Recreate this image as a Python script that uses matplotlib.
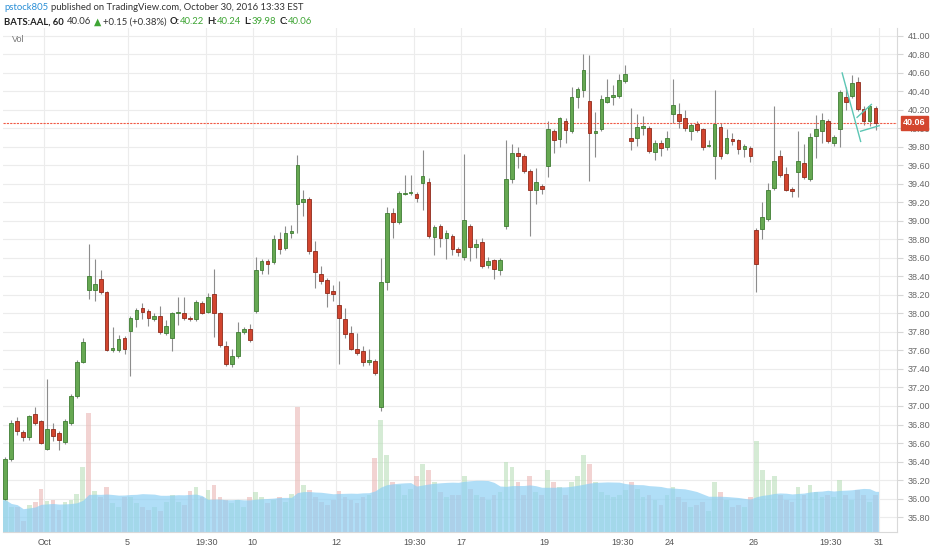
import numpy as np
import pandas as pd
import matplotlib
matplotlib.use('Agg')
import matplotlib.pyplot as plt
import matplotlib.transforms as mtransforms

# BATS:AAL, 60 min bars, Sep 30 - Oct 28 2016
opens = [36.00, 36.43, 36.84, 36.72, 36.66, 36.91, 36.84,
         36.54, 36.75, 36.71, 36.61, 36.82, 37.11, 37.48,
         38.25, 38.25, 38.37, 38.23, 37.61, 37.60, 37.74,
         37.81, 37.94, 38.06, 38.03, 37.94, 37.97, 37.79,
         37.74, 38.00, 38.00, 37.95, 37.94, 38.11, 38.02,
         38.21, 38.01, 37.65, 37.45, 37.54, 37.80, 37.83,
         38.03, 38.47, 38.57, 38.56, 38.80, 38.71, 38.87,
         39.18, 39.20, 39.24, 38.68, 38.43, 38.36, 38.24,
         38.09, 37.94, 37.79, 37.62, 37.59, 37.48, 37.49,
         36.99, 38.34, 39.09, 38.99, 39.29, 39.30, 39.29,
         39.41, 39.42, 38.83, 38.95, 38.82, 38.84, 38.70,
         38.61, 38.95, 38.72, 38.77, 38.52, 38.58, 38.47,
         38.95, 39.45, 39.73, 39.70, 39.54, 39.33, 39.38,
         39.59, 39.97, 39.89, 40.08, 39.97, 40.34, 40.42,
         40.30, 39.95, 39.99, 40.29, 40.34, 40.35, 40.51,
         39.90, 39.90, 40.01, 40.01, 39.75, 39.84, 39.80,
         40.16, 40.16, 40.11, 39.97, 40.05, 39.99, 39.81,
         39.70, 40.02, 39.74, 39.89, 39.87, 39.78, 39.79,
         38.90, 38.91, 39.02, 39.36, 39.70, 39.51, 39.35,
         39.53, 39.63, 39.45, 39.92, 39.97, 40.08, 39.84,
         39.99, 40.34, 40.35, 40.50, 40.21, 40.08, 40.22]
highs = [36.45, 36.85, 36.88, 36.74, 36.90, 36.99, 36.85,
         37.29, 36.82, 36.73, 36.86, 37.13, 37.50, 37.74,
         38.75, 38.59, 38.47, 38.24, 37.85, 37.77, 37.76,
         37.97, 38.06, 38.11, 38.05, 38.00, 38.08, 37.93,
         38.02, 38.18, 38.18, 37.97, 38.15, 38.13, 38.22,
         38.48, 38.02, 37.70, 37.62, 37.91, 37.85, 37.89,
         38.61, 38.59, 38.59, 38.85, 38.88, 38.95, 38.96,
         39.71, 39.33, 39.26, 38.78, 38.51, 38.38, 38.31,
         38.35, 38.06, 37.87, 37.79, 37.65, 37.62, 37.51,
         38.60, 39.15, 39.14, 39.32, 39.50, 39.50, 39.31,
         39.77, 39.46, 38.96, 38.97, 38.90, 38.86, 38.72,
         39.72, 38.97, 38.80, 38.82, 38.61, 38.59, 38.60,
         39.88, 39.83, 39.80, 39.72, 39.56, 39.57, 39.40,
         40.08, 39.99, 40.12, 40.11, 40.45, 40.45, 40.81,
         40.79, 40.18, 40.36, 40.54, 40.47, 40.59, 40.69,
         40.22, 40.16, 40.14, 40.03, 39.88, 39.87, 39.97,
         40.54, 40.28, 40.20, 40.06, 40.08, 40.00, 39.88,
         40.42, 40.06, 39.99, 39.95, 39.89, 39.83, 39.81,
         38.92, 39.20, 39.41, 40.24, 39.77, 39.58, 39.37,
         39.97, 39.83, 39.95, 40.15, 40.17, 40.10, 39.93,
         40.42, 40.45, 40.58, 40.56, 40.24, 40.25, 40.24]
lows = [35.98, 36.41, 36.69, 36.62, 36.63, 36.80, 36.59,
        36.52, 36.62, 36.52, 36.59, 36.80, 37.09, 37.46,
        38.16, 38.14, 38.21, 37.59, 37.58, 37.58, 37.56,
        37.32, 37.85, 37.94, 37.87, 37.92, 37.78, 37.77,
        37.59, 37.88, 37.93, 37.92, 37.92, 37.99, 38.00,
        37.75, 37.64, 37.43, 37.42, 37.52, 37.78, 37.69,
        38.01, 38.43, 38.43, 38.54, 38.64, 38.69, 38.82,
        38.87, 39.05, 38.64, 38.28, 38.32, 38.07, 38.13,
        37.45, 37.73, 37.60, 37.55, 37.43, 37.44, 37.34,
        36.95, 38.25, 38.82, 38.97, 39.28, 39.28, 39.20,
        39.12, 38.82, 38.63, 38.72, 38.59, 38.63, 38.62,
        38.58, 38.57, 38.60, 38.49, 38.49, 38.37, 38.42,
        38.91, 39.41, 39.57, 39.52, 38.84, 39.18, 39.29,
        39.48, 39.74, 39.80, 39.84, 39.95, 40.22, 40.34,
        39.43, 39.69, 39.97, 40.27, 40.25, 40.33, 40.49,
        39.77, 39.81, 39.93, 39.74, 39.66, 39.70, 39.77,
        40.06, 40.00, 39.97, 39.87, 39.96, 39.77, 39.80,
        39.45, 39.67, 39.72, 39.82, 39.72, 39.69, 39.64,
        38.23, 38.80, 39.00, 39.34, 39.48, 39.32, 39.26,
        39.26, 39.45, 39.43, 39.68, 39.84, 39.84, 39.81,
        39.80, 40.20, 40.33, 40.19, 40.04, 40.03, 39.98]
closes = [36.43, 36.82, 36.73, 36.67, 36.89, 36.82, 36.60,
          36.75, 36.68, 36.63, 36.84, 37.11, 37.48, 37.69,
          38.41, 38.32, 38.23, 37.61, 37.63, 37.72, 37.62,
          37.95, 38.04, 38.02, 37.95, 37.97, 37.80, 37.87,
          38.00, 38.01, 37.95, 37.94, 38.12, 38.01, 38.18,
          38.00, 37.66, 37.45, 37.54, 37.80, 37.83, 37.71,
          38.47, 38.57, 38.54, 38.81, 38.70, 38.87, 38.89,
          39.61, 39.24, 38.68, 38.45, 38.35, 38.22, 38.21,
          37.95, 37.78, 37.62, 37.57, 37.48, 37.49, 37.36,
          38.34, 39.09, 38.99, 39.30, 39.30, 39.31, 39.25,
          39.49, 38.84, 38.94, 38.82, 38.87, 38.70, 38.66,
          39.01, 38.72, 38.75, 38.51, 38.57, 38.48, 38.58,
          39.45, 39.74, 39.70, 39.54, 39.33, 39.42, 39.35,
          39.99, 39.88, 40.11, 39.98, 40.34, 40.43, 40.63,
          39.95, 39.97, 40.32, 40.34, 40.36, 40.52, 40.59,
          39.86, 40.02, 40.02, 39.76, 39.84, 39.79, 39.90,
          40.25, 40.08, 40.01, 40.04, 39.98, 39.80, 39.82,
          40.05, 39.70, 39.90, 39.86, 39.78, 39.81, 39.70,
          38.54, 39.04, 39.34, 39.65, 39.50, 39.34, 39.32,
          39.65, 39.47, 39.91, 39.99, 40.09, 39.86, 39.91,
          40.39, 40.29, 40.49, 40.21, 40.08, 40.24, 40.06]
# volume, millions of shares
volumes = [0.26, 0.20, 0.20, 0.09, 0.22, 0.24, 0.35,
           0.25, 0.26, 0.18, 0.24, 0.26, 0.31, 0.52,
           0.96, 0.33, 0.28, 0.36, 0.23, 0.20, 0.28,
           0.28, 0.23, 0.20, 0.18, 0.20, 0.17, 0.24,
           0.30, 0.24, 0.22, 0.33, 0.36, 0.28, 0.34,
           0.38, 0.28, 0.26, 0.23, 0.26, 0.20, 0.28,
           0.32, 0.28, 0.23, 0.26, 0.28, 0.24, 0.31,
           1.01, 0.38, 0.34, 0.28, 0.24, 0.22, 0.26,
           0.33, 0.28, 0.26, 0.23, 0.28, 0.30, 0.60,
           0.90, 0.62, 0.40, 0.38, 0.30, 0.35, 0.45,
           0.55, 0.50, 0.40, 0.32, 0.28, 0.30, 0.30,
           0.45, 0.35, 0.30, 0.28, 0.26, 0.30, 0.32,
           0.56, 0.52, 0.40, 0.30, 0.45, 0.32, 0.30,
           0.50, 0.40, 0.36, 0.30, 0.40, 0.45, 0.62,
           0.55, 0.40, 0.32, 0.30, 0.28, 0.30, 0.34,
           0.40, 0.35, 0.28, 0.30, 0.26, 0.22, 0.30,
           0.36, 0.28, 0.24, 0.20, 0.22, 0.24, 0.17,
           0.40, 0.32, 0.26, 0.20, 0.22, 0.20, 0.28,
           0.73, 0.50, 0.42, 0.45, 0.30, 0.26, 0.24,
           0.36, 0.30, 0.38, 0.32, 0.28, 0.30, 0.28,
           0.42, 0.30, 0.26, 0.34, 0.30, 0.24, 0.30]
vol_flip = [14, 49, 126]   # bars whose volume colour differs from the candle

tick_pos = [6.5, 20.5, 33.7, 41.5, 55.5, 68.6, 76.5, 90.5, 103.6, 111.5, 125.5, 138.5, 146.5]
tick_lab = ['Oct', '5', '19:30', '10', '12', '19:30', '17', '19', '19:30', '24', '26', '19:30', '31']
last_price = 40.06

# drawing ---------------------------------------------------------------
W, H = 932, 550
fig = plt.figure(figsize=(W / 100, H / 100), dpi=100)
fig.patch.set_facecolor('#ffffff')
ax = fig.add_axes([3 / W, 18 / H, 894 / W, 504 / H])
ax.set_facecolor('#ffffff')

x = np.arange(len(closes))
o = np.array(opens)
c = np.array(closes)
up = c >= o
vol = np.array(volumes)
vup = up.copy()
vup[vol_flip] = ~vup[vol_flip]

# volume overlay (bottom of pane), drawn in axes-fraction heights
vtop = 4.06
trans = mtransforms.blended_transform_factory(ax.transData, ax.transAxes)
ax.bar(x[vup], vol[vup] / vtop, width=0.8, bottom=0, color='#b9dfb9', alpha=0.6,
       transform=trans, zorder=1)
ax.bar(x[~vup], vol[~vup] / vtop, width=0.8, bottom=0, color='#eab7b4', alpha=0.6,
       transform=trans, zorder=1)
ma = pd.Series(vol).rolling(20, min_periods=1).mean().values
ax.fill_between(np.r_[x[0] - 0.5, x, x[-1] + 0.5], 0, np.r_[ma[0], ma, ma[-1]] / vtop,
                color='#8fd0f4', alpha=0.7, lw=0, transform=trans, zorder=1.5)

# candles
ax.vlines(x, lows, highs, color='#8c8c8c', lw=0.8, zorder=2)
bot = np.minimum(o, c)
hgt = np.maximum(np.abs(c - o), 0.012)
ax.bar(x[up], hgt[up], bottom=bot[up], width=0.62, color='#66a852',
       edgecolor='#3f7d33', lw=0.6, zorder=3)
ax.bar(x[~up], hgt[~up], bottom=bot[~up], width=0.62, color='#d2452f',
       edgecolor='#8e2b1c', lw=0.6, zorder=3)

# trend lines drawn on the chart
ax.plot([140.4, 143.5], [40.60, 39.86], color='#5cc6b4', lw=1.0, zorder=4)
ax.plot([143.5, 146.6], [39.97, 40.03], color='#5cc6b4', lw=1.0, zorder=4)
ax.plot([142.9, 145.3], [40.12, 40.26], color='#5cc6b4', lw=1.0, zorder=4)

# last price line + label
ax.axhline(last_price, color='#f05a45', lw=0.8, ls=(0, (2, 1)), zorder=2.5)
ytr = mtransforms.blended_transform_factory(ax.transAxes, ax.transData)
ax.text(1.007, last_price, '%.2f' % last_price, transform=ytr, ha='left', va='center',
        fontsize=6.5, color='white', family='Liberation Sans', fontweight='bold',
        bbox=dict(boxstyle='square,pad=0.25', fc='#d3462e', ec='#d3462e'), zorder=6,
        clip_on=False)

ax.set_xlim(-0.39, 149.6)
ax.set_ylim(35.638, 41.086)
ax.set_yticks(np.round(np.arange(35.8, 41.01, 0.2), 2))
ax.set_yticklabels(['%.2f' % v for v in np.arange(35.8, 41.01, 0.2)])
ax.yaxis.tick_right()
ax.set_xticks(tick_pos)
ax.set_xticklabels(tick_lab)
ax.tick_params(axis='y', length=4, color='#d6d6d6', labelsize=6.5, labelcolor='#666666', pad=4)
ax.tick_params(axis='x', length=0, labelsize=6.5, labelcolor='#555555', pad=4)
for lab in ax.get_xticklabels() + ax.get_yticklabels():
    lab.set_family('Liberation Sans')
ax.grid(True, color='#ececec', lw=0.8)
ax.set_axisbelow(True)
for s in ['top', 'left']:
    ax.spines[s].set_visible(False)
ax.spines['right'].set_color('#d9d9d9')
ax.spines['bottom'].set_color('#d9d9d9')

ax.text(9 / 894, 1 - 12 / 504, 'Vol', transform=ax.transAxes, fontsize=6.5,
        color='#777777', va='center', family='Liberation Sans')

# header rows, drawn piece by piece
renderer = fig.canvas.get_renderer()


def header_row(y_px, parts, size):
    xp = 4
    for s, col, bold, gap in parts:
        t = fig.text(xp / W, 1 - y_px / H, s, color=col, fontsize=size,
                     fontweight='bold' if bold else 'normal', va='center',
                     family=['Lato', 'DejaVu Sans'])
        xp += t.get_window_extent(renderer).width + gap
    return xp - 4


green = '#3fa535'
dark = '#333333'
row1 = [('pstock805', '#2a8fd6', False, 3),
        ('published on TradingView.com, October 30, 2016 13:33 EST', dark, False, 0)]
row2 = [('BATS:AAL, 60', '#222222', True, 3), ('40.06', dark, False, 3),
        ('\u25b2', green, False, 2), ('+0.15 (+0.38%)', dark, False, 3),
        ('O:', '#222222', True, 0), ('40.22', green, False, 3),
        ('H:', '#222222', True, 0), ('40.24', green, False, 3),
        ('L:', '#222222', True, 0), ('39.98', green, False, 3),
        ('C:', '#222222', True, 0), ('40.06', green, False, 0)]

# size the header so the first row spans the same width as in the source
probe = fig.text(0, 0, 'pstock805 published on TradingView.com, October 30, 2016 13:33 EST',
                 fontsize=7, family=['Lato', 'DejaVu Sans'])
hsize = 7 * 301 / probe.get_window_extent(renderer).width
probe.remove()
header_row(8, row1, hsize)
header_row(22, row2, hsize)

fig.savefig('out.png', dpi=100, facecolor=fig.get_facecolor())
